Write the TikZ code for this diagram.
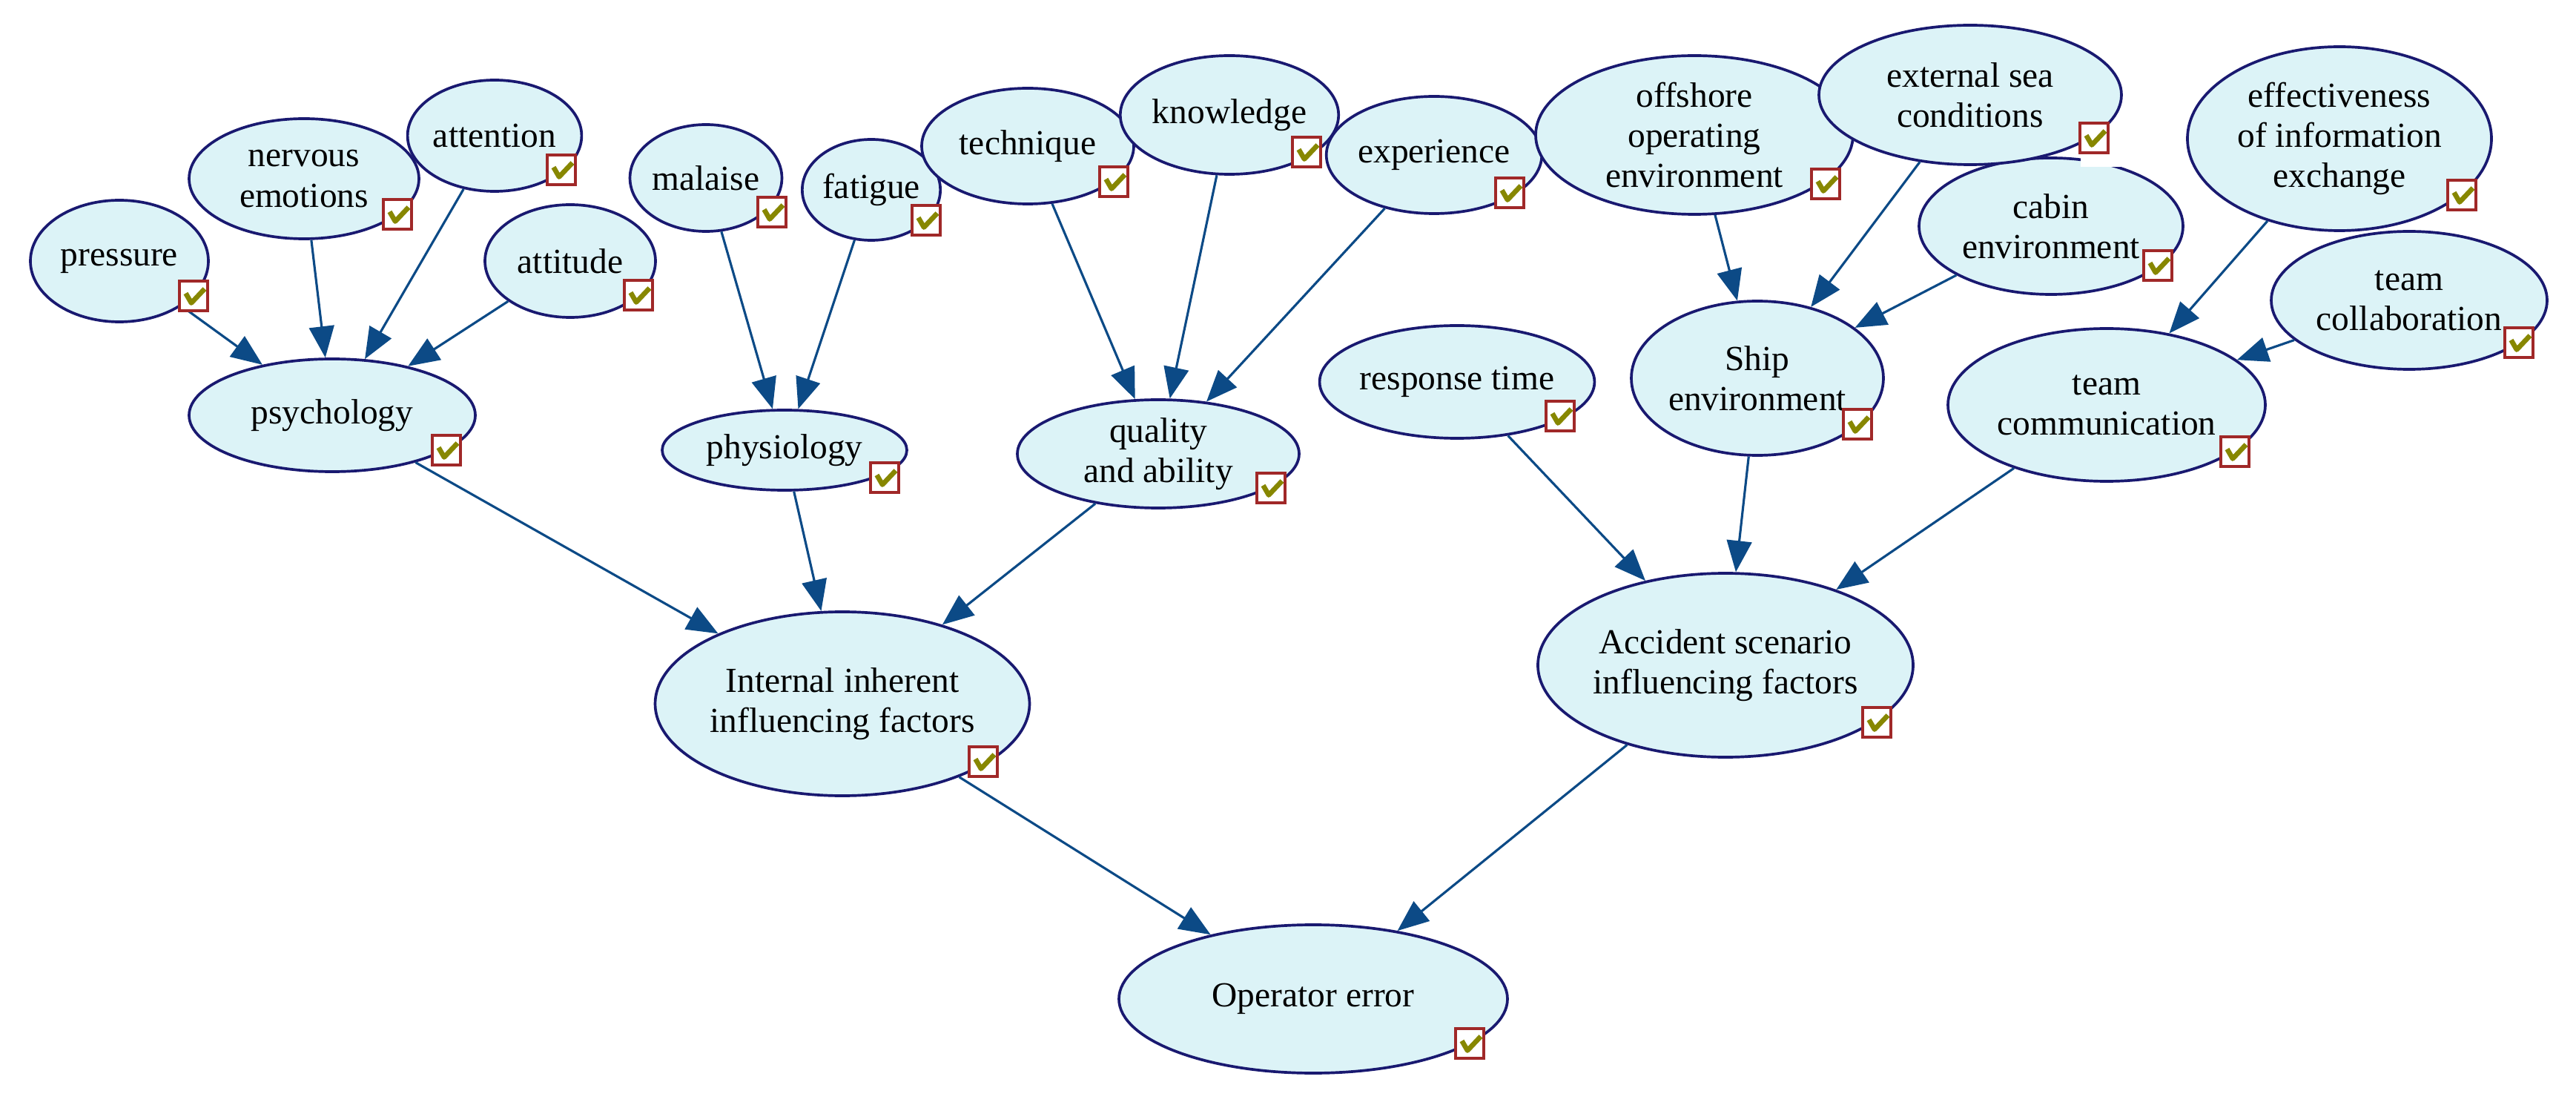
\documentclass[tikz,border=0pt]{standalone}
\usepackage{fontspec}
\setmainfont{Liberation Serif}
\usetikzlibrary{shapes.geometric,arrows.meta}
\definecolor{nodefill}{RGB}{220,243,247}
\definecolor{nodeline}{RGB}{25,25,112}
\definecolor{edgecol}{RGB}{12,74,134}
\definecolor{chkred}{RGB}{160,40,40}
\definecolor{chkgreen}{RGB}{135,135,0}
\newcommand\myckbox[3]{%
  \node[chk] (#1) at (#2,#3) {};
  \draw[chkmark] ([shift={(-0.105,0.035)}]#1.center) -- ([shift={(-0.03,-0.095)}]#1.center) -- ([shift={(0.150,0.095)}]#1.center);}
\begin{document}
\begin{tikzpicture}[
  bn/.style={ellipse, draw=nodeline, line width=1.05pt, fill=nodefill, inner sep=0pt,
    align=center, font=\fontsize{13.5pt}{15.4pt}\selectfont},
  dep/.style={draw=edgecol, line width=0.9pt, -{Triangle[length=12pt,width=9.6pt]}},
  chk/.style={draw=chkred, line width=1pt, fill=white, minimum width=0.38cm,
    minimum height=0.40cm, inner sep=0pt},
  chkmark/.style={draw=chkgreen, line width=1.9pt, line join=round},
  patch/.style={fill=white, draw=none}
]
\useasboundingbox (0,0) rectangle (34.74,-14.90);

% ---- nodes (overlapping ones in drawing order) ----
\node[bn, minimum width=2.40cm, minimum height=1.64cm] (pressure) at (1.61,-3.52) {pressure};
\node[bn, minimum width=3.10cm, minimum height=1.62cm] (nervous) at (4.10,-2.41) {nervous\\emotions};
\node[bn, minimum width=2.26cm, minimum height=1.50cm] (attention) at (6.67,-1.83) {attention};
\node[bn, minimum width=2.30cm, minimum height=1.52cm] (attitude) at (7.69,-3.52) {attitude};
\node[bn, minimum width=2.04cm, minimum height=1.44cm] (malaise) at (9.52,-2.40) {malaise};
\node[bn, minimum width=1.84cm, minimum height=1.36cm] (fatigue) at (11.75,-2.56) {fatigue};
\node[bn, minimum width=2.86cm, minimum height=1.56cm] (technique) at (13.86,-1.97) {technique};
\node[bn, minimum width=2.52cm, minimum height=1.60cm] (knowledge) at (16.58,-1.55) {knowledge};
\node[bn, minimum width=2.48cm, minimum height=1.58cm] (experience) at (19.34,-2.09) {experience};
\node[bn, minimum width=4.28cm, minimum height=2.14cm] (offshore) at (22.85,-1.82) {offshore\\operating\\environment};
\node[bn, minimum width=3.56cm, minimum height=1.84cm] (cabin) at (27.66,-3.05) {cabin\\environment};
\node[bn, minimum width=4.08cm, minimum height=1.88cm] (external) at (26.57,-1.28) {external sea\\conditions};
\node[bn, minimum width=4.10cm, minimum height=2.48cm] (effect) at (31.55,-1.87) {effectiveness\\of information\\exchange};
\node[bn, minimum width=3.72cm, minimum height=1.86cm] (teamcollab) at (32.49,-4.05) {team\\collaboration};
\node[bn, minimum width=4.28cm, minimum height=2.06cm] (teamcomm) at (28.41,-5.46) {team\\communication};
\node[bn, minimum width=3.86cm, minimum height=1.52cm] (psych) at (4.48,-5.60) {psychology};
\node[bn, minimum width=3.30cm, minimum height=1.08cm] (physio) at (10.58,-6.07) {physiology};
\node[bn, minimum width=3.80cm, minimum height=1.46cm] (quality) at (15.62,-6.12) {quality\\and ability};
\node[bn, minimum width=3.44cm, minimum height=1.52cm] (response) at (19.65,-5.15) {response time};
\node[bn, minimum width=3.40cm, minimum height=2.08cm] (ship) at (23.70,-5.10) {Ship\\environment};
\node[bn, minimum width=4.72cm, minimum height=2.48cm] (internal) at (11.36,-9.49) {Internal inherent\\influencing factors};
\node[bn, minimum width=5.06cm, minimum height=2.48cm] (accident) at (23.27,-8.97) {Accident scenario\\influencing factors};
\node[bn, minimum width=5.24cm, minimum height=2.00cm] (operator) at (17.71,-13.47) {Operator error};

% ---- connectors ----
\draw[dep] (pressure) -- (psych);
\draw[dep] (nervous) -- (psych);
\draw[dep] (attention) -- (psych);
\draw[dep] (attitude) -- (psych);
\draw[dep] (malaise) -- (physio);
\draw[dep] (fatigue) -- (physio);
\draw[dep] (technique) -- (quality);
\draw[dep] (knowledge) -- (quality);
\draw[dep] (experience) -- (quality);
\draw[dep] (psych) -- (internal);
\draw[dep] (physio) -- (internal);
\draw[dep] (quality) -- (internal);
\draw[dep] (offshore) -- (ship);
\draw[dep] (external) -- (ship);
\draw[dep] (cabin) -- (ship);
\draw[dep] (effect) -- (teamcomm);
\draw[dep] (teamcollab) -- (teamcomm);
\draw[dep] (response) -- (accident);
\draw[dep] (ship) -- (accident);
\draw[dep] (teamcomm) -- (accident);
\draw[dep] (internal) -- (operator);
\draw[dep] (accident) -- (operator);

% ---- check boxes ----
\fill[patch] (28.06,-2.08) rectangle (28.60,-2.25);
\myckbox{c1}{2.61}{-3.99}
\myckbox{c2}{5.36}{-2.89}
\myckbox{c3}{7.57}{-2.29}
\myckbox{c4}{8.61}{-3.98}
\myckbox{c5}{10.41}{-2.86}
\myckbox{c6}{12.49}{-2.97}
\myckbox{c7}{15.02}{-2.45}
\myckbox{c8}{17.62}{-2.05}
\myckbox{c9}{20.36}{-2.60}
\myckbox{c10}{24.62}{-2.48}
\myckbox{c11}{28.24}{-1.86}
\myckbox{c12}{29.10}{-3.58}
\myckbox{c13}{33.20}{-2.63}
\myckbox{c14}{33.97}{-4.62}
\myckbox{c15}{30.14}{-6.09}
\myckbox{c16}{6.02}{-6.07}
\myckbox{c17}{11.93}{-6.44}
\myckbox{c18}{17.14}{-6.58}
\myckbox{c19}{21.04}{-5.61}
\myckbox{c20}{25.05}{-5.72}
\myckbox{c21}{13.26}{-10.27}
\myckbox{c22}{25.31}{-9.74}
\myckbox{c23}{19.82}{-14.07}
\end{tikzpicture}
\end{document}
